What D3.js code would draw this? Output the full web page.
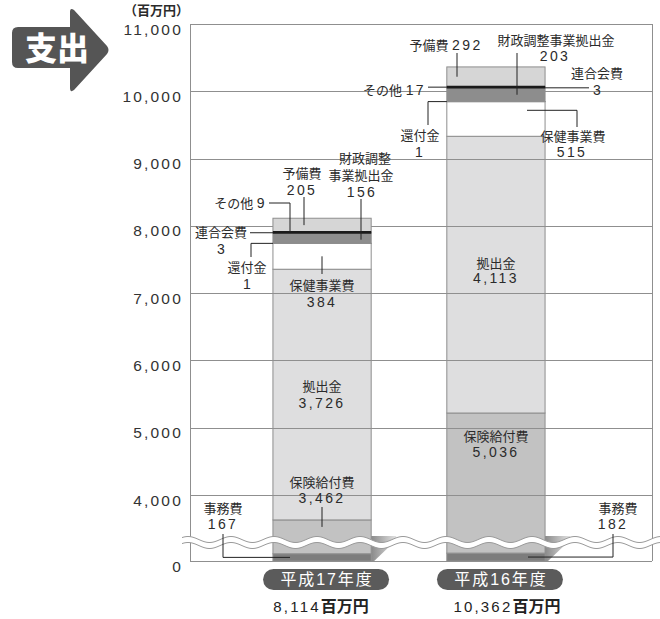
<!DOCTYPE html>
<html>
<head>
<meta charset="utf-8">
<script src="https://cdn.jsdelivr.net/npm/d3@7"></script>
<style>
  body { margin: 0; background: #fff; }
  svg { display: block; font-family: "Liberation Sans", "Noto Sans CJK JP", sans-serif; }
</style>
</head>
<body>
<svg id="chart" width="660" height="619"></svg>
<script>
const years = ['平成17年度', '平成16年度'];
const totals = ['8,114', '10,362'];
const items = ['事務費', '保険給付費', '拠出金', '保健事業費', '還付金', '財政調整事業拠出金', '連合会費', 'その他', '予備費'];
const h17 = [167, 3462, 3726, 384, 1, 156, 3, 9, 205];
const h16 = [182, 5036, 4113, 515, 1, 203, 3, 17, 292];
const yTicks = [0, 4000, 5000, 6000, 7000, 8000, 9000, 10000, 11000];
const series = [h17, h16];

const colors = {
  '事務費': '#7d7d7d', '保険給付費': '#c2c2c2', '拠出金': '#dededf', '保健事業費': '#ffffff',
  '還付金': '#ffffff', '財政調整事業拠出金': '#8d8d8d', '連合会費': '#8d8d8d', 'その他': '#1e1e1e', '予備費': '#d6d6d6'
};
const ink = '#2b2b2b';
const gridColor = '#8f8f8f';

const svg = d3.select('#chart');
const fmt = d3.format(',');

// broken axis: 300..3390 is squeezed under the wavy band
const y = d3.scaleLinear().domain([0, 300, 3390, 11000]).range([561, 548, 536, 24]);
const x = d3.scaleBand().domain(years).range([186, 632]).paddingInner(0.435).paddingOuter(0.5);
const bw = x.bandwidth();
const left = 190, right = 652;

const rows = years.map((yr, i) => {
  const o = { year: yr };
  items.forEach((k, j) => o[k] = series[i][j]);
  return o;
});
const stacked = d3.stack().keys(items)(rows);

// text helper: digits get the wide spacing seen in the print
function richText(g, str, px, py, anchor, opt) {
  opt = opt || {};
  const t = g.append('text')
    .attr('x', px).attr('y', py).attr('dy', '0.36em')
    .attr('text-anchor', anchor || 'middle')
    .attr('fill', opt.fill || ink)
    .attr('font-size', opt.size || 13);
  str.split(/([0-9,]+)/).filter(s => s).forEach(s => {
    const ts = t.append('tspan').text(s);
    if (/^[0-9,]+$/.test(s)) {
      ts.attr('font-size', opt.numSize || 14).attr('letter-spacing', opt.spacing != null ? opt.spacing : 2.4);
    } else if (opt.bold) {
      ts.attr('font-weight', 'bold').attr('font-size', opt.boldSize || 16);
    }
  });
  return t;
}

// header arrow
svg.append('path')
  .attr('d', 'M18 27 H70 V12 Q70 7 74 10 L107 46 Q110 50 107 54 L74 90 Q70 93 70 88 V68 H18 Q12 68 12 62 V33 Q12 27 18 27 Z')
  .attr('fill', '#555');
svg.append('text').attr('x', 57).attr('y', 48).attr('dy', '0.36em')
  .attr('text-anchor', 'middle').attr('fill', '#fff')
  .attr('font-family', '"Noto Sans CJK JP"').attr('font-weight', 900).attr('font-size', 32)
  .text('支出');
svg.append('text').attr('x', 124).attr('y', 10).attr('dy', '0.36em')
  .attr('fill', ink).attr('font-family', '"Noto Sans CJK JP"').attr('font-weight', 'bold').attr('font-size', 13)
  .text('（百万円）');

// y labels
svg.append('g').selectAll('text').data(yTicks).join('text')
  .attr('x', 183).attr('y', d => y(d) + 5).attr('dy', '0.36em')
  .attr('text-anchor', 'end').attr('fill', '#333')
  .attr('font-size', 15.5).attr('letter-spacing', 2.2)
  .text(d => fmt(d));

function drawSegments(keys) {
  const g = svg.append('g');
  stacked.filter(s => keys.includes(s.key)).forEach(s => {
    g.selectAll(null).data(s).join('rect')
      .attr('x', d => x(d.data.year)).attr('width', bw)
      .attr('y', d => y(d[1])).attr('height', d => y(d[0]) - y(d[1]))
      .attr('fill', colors[s.key]).attr('stroke', '#8e8e8e').attr('stroke-width', 1);
  });
  return g;
}

// lower segments, then grid, then upper segments
drawSegments(items.slice(0, 3));

const grid = svg.append('g').attr('stroke', gridColor).attr('stroke-width', 1);
grid.selectAll('line').data(yTicks).join('line')
  .attr('x1', left).attr('x2', right)
  .attr('y1', d => Math.round(y(d)) + 0.5).attr('y2', d => Math.round(y(d)) + 0.5);
grid.append('line').attr('x1', left + 0.5).attr('x2', left + 0.5).attr('y1', y(11000)).attr('y2', y(0));
grid.append('line').attr('x1', right + 0.5).attr('x2', right + 0.5).attr('y1', y(11000)).attr('y2', y(0));

const upper = drawSegments(items.slice(3));
// その他 shows as a heavy black rule
const other = stacked.find(s => s.key === 'その他');
upper.selectAll('line.other').data(other).join('line')
  .attr('x1', d => x(d.data.year)).attr('x2', d => x(d.data.year) + bw)
  .attr('y1', d => y((d[0] + d[1]) / 2)).attr('y2', d => y((d[0] + d[1]) / 2))
  .attr('stroke', '#1a1a1a').attr('stroke-width', 2.6);

// shadow wedge at bar foot
const defs = svg.append('defs');
const grad = defs.append('linearGradient').attr('id', 'shade').attr('x1', 0).attr('x2', 1).attr('y1', 0).attr('y2', 0);
grad.append('stop').attr('offset', 0).attr('stop-color', '#8a8a8a');
grad.append('stop').attr('offset', 1).attr('stop-color', '#e2e2e2');
svg.append('g').selectAll('path').data(years).join('path')
  .attr('d', d => {
    const r = x(d) + bw;
    return `M${r},${y(3390)} H${r + 25} V${y(3390) + 4} L${r + 3},${y(0)} H${r} Z`;
  })
  .attr('fill', 'url(#shade)');

// wavy break band
const waveTop = d3.range(182, 662, 1).map(px => [px, 539.5 - 3 * Math.cos(2 * Math.PI * (px - 188) / 43)]);
const waveBot = waveTop.map(p => [p[0], p[1] + 6]);
const band = svg.append('g');
band.append('path')
  .attr('d', d3.line()(waveTop.concat(waveBot.slice().reverse())) + 'Z')
  .attr('fill', '#fff');
band.selectAll('path.w').data([waveTop, waveBot]).join('path')
  .attr('d', d => d3.line()(d)).attr('fill', 'none').attr('stroke', '#9a9a9a').attr('stroke-width', 1);

// annotations
function segY(bar, item, f) {
  const s = stacked.find(s => s.key === item)[bar];
  return y(s[0] + (s[1] - s[0]) * f);
}
const notes = [
  { bar: 0, item: '予備費', lines: [['予備費', 302, 173], ['#', 302, 190]], leader: [[304, 197], [304, 's0.5']] },
  { bar: 0, item: '財政調整事業拠出金', lines: [['財政調整', 365, 158], ['事業拠出金', 361, 175], ['#', 362, 192]], leader: [[361, 199], [361, 's0.35']] },
  { bar: 0, item: 'その他', lines: [['その他 #', 267, 203, 'end']], leader: [[269, 203], [290, 203], [290, 's0.5']] },
  { bar: 0, item: '連合会費', lines: [['連合会費', 247, 232, 'end'], ['#', 222, 249]], leader: [[250, 's0.5'], ['L', 's0.5']] },
  { bar: 0, item: '還付金', lines: [['還付金', 247, 267], ['#', 248, 284]], leader: [[251, 257], [251, 's0.5'], ['L', 's0.5']] },
  { bar: 0, item: '保健事業費', lines: [['保健事業費', 322, 285], ['#', 322, 302]], leader: [[322, 274], [322, 's0.5']] },
  { bar: 0, item: '拠出金', lines: [['拠出金', 322, 386], ['#', 322, 403]] },
  { bar: 0, item: '保険給付費', lines: [['保険給付費', 322, 482], ['#', 322, 498]], leader: [[322, 507], [322, 's0.97']] },
  { bar: 0, item: '事務費', lines: [['事務費', 223, 508], ['#', 223, 524]], leader: [[223, 534], [223, 's0.5'], [290, 's0.5']] },

  { bar: 1, item: '予備費', lines: [['予備費 #', 446, 45]], leader: [[457, 53], [457, 's0.5']] },
  { bar: 1, item: '財政調整事業拠出金', lines: [['財政調整事業拠出金', 556, 40], ['#', 555, 56]], leader: [[517, 53], [517, 's0.5']] },
  { bar: 1, item: '連合会費', lines: [['連合会費', 597, 73], ['#', 598, 90]], leader: [['R', 's0.5'], [589, 's0.5']] },
  { bar: 1, item: 'その他', lines: [['その他 #', 426, 90, 'end']], leader: [[428, 's0.5'], ['L', 's0.5']] },
  { bar: 1, item: '還付金', lines: [['還付金', 420, 135], ['#', 420, 152]], leader: [[428, 125], [428, 's0.5'], ['L', 's0.5']] },
  { bar: 1, item: '保健事業費', lines: [['保健事業費', 573, 136], ['#', 572, 152]], leader: [[527, 's0.75'], [577, 's0.75'], [577, 127]] },
  { bar: 1, item: '拠出金', lines: [['拠出金', 496, 263], ['#', 496, 278]] },
  { bar: 1, item: '保険給付費', lines: [['保険給付費', 496, 436], ['#', 496, 452]] },
  { bar: 1, item: '事務費', lines: [['事務費', 618, 508], ['#', 613, 524]], leader: [[613, 534], [613, 's0.5'], [528, 's0.5']] }
];

const ann = svg.append('g');
notes.forEach(n => {
  const v = series[n.bar][items.indexOf(n.item)];
  if (n.leader) {
    const pts = n.leader.map(p => {
      let px = p[0], py = p[1];
      if (px === 'L') px = x(years[n.bar]);
      if (px === 'R') px = x(years[n.bar]) + bw;
      if (typeof py === 'string') py = segY(n.bar, n.item, +py.slice(1));
      return [px, py];
    });
    ann.append('path').attr('d', d3.line()(pts))
      .attr('fill', 'none').attr('stroke', '#222').attr('stroke-width', 1);
  }
  n.lines.forEach(l => richText(ann, l[0].replace('#', fmt(v)), l[1], l[2], l[3] || 'middle'));
});

// year pills and totals
const foot = svg.append('g');
years.forEach((yr, i) => {
  const cx = x(yr) + bw / 2 + 4;
  foot.append('rect').attr('x', cx - 63).attr('y', 569).attr('width', 126).attr('height', 21)
    .attr('rx', 10.5).attr('fill', '#5b5b5b');
  foot.append('text').attr('x', cx + 1).attr('y', 579.5).attr('dy', '0.36em')
    .attr('text-anchor', 'middle').attr('fill', '#fff').attr('font-size', 16).attr('letter-spacing', 1.9)
    .text(yr);
  richText(foot, totals[i] + '百万円', cx - 5 + i * 12, 607, 'middle',
    { numSize: 15, spacing: 2.2, bold: true, boldSize: 16, fill: '#222' });
});
</script>
</body>
</html>
